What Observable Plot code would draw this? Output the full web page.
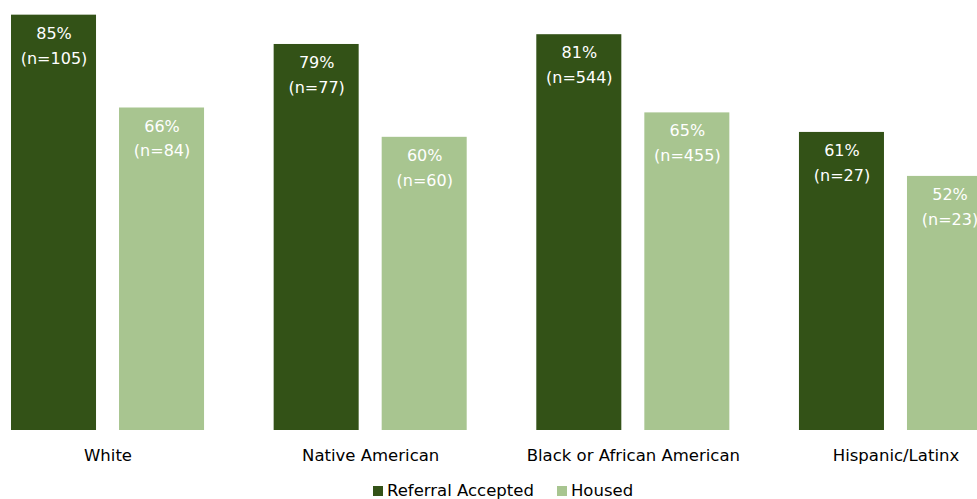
<!DOCTYPE html>
<html>
<head>
<meta charset="utf-8">
<script src="https://cdn.jsdelivr.net/npm/d3@7"></script>
<script src="https://cdn.jsdelivr.net/npm/@observablehq/plot@0.6"></script>
<style>
  html, body { margin: 0; padding: 0; background: #fff; overflow: hidden; width: 977px; height: 499px; }
  #chart { position: absolute; left: 0; top: 0; width: 977px; }
  #legend { position: absolute; top: 481px; left: 373px; display: flex; align-items: center; font-family: "DejaVu Sans", sans-serif; font-size: 16.5px; line-height: 20px; color: #000; white-space: nowrap; }
  #legend .item { display: flex; align-items: center; margin-right: 23px; }
  #legend .sw { width: 10px; height: 10px; margin-right: 4px; }
</style>
</head>
<body>
<div id="chart"></div>
<div id="legend"></div>
<script>
const categories = ["White", "Native American", "Black or African American", "Hispanic/Latinx"];
const series = ["Referral Accepted", "Housed"];
const referralAccepted = [85, 79, 81, 61];
const referralN = [105, 77, 544, 27];
const housed = [66, 60, 65, 52];
const housedN = [84, 60, 455, 23];
const colors = ["#335217", "#A8C590"];

const data = [];
categories.forEach((c, i) => {
  data.push({category: c, series: series[0], value: referralAccepted[i], n: referralN[i]});
  data.push({category: c, series: series[1], value: housed[i], n: housedN[i]});
});

const chart = Plot.plot({
  width: 977,
  height: 480,
  marginTop: 0,
  marginBottom: 50,
  marginLeft: 0,
  marginRight: 0,
  style: {fontFamily: "DejaVu Sans, sans-serif", fontSize: "16px", overflow: "visible"},
  fx: {domain: categories, range: [11, 992], paddingInner: 0.265, paddingOuter: 0, round: false, label: null, axis: null},
  x: {domain: series, paddingInner: 0.213, paddingOuter: 0, round: false, axis: null},
  y: {domain: [0, 88], range: [430, 0], axis: null},
  color: {domain: series, range: colors},
  marks: [
    Plot.barY(data, {fx: "category", x: "series", y: "value", fill: "series"}),
    Plot.text(data, {
      fx: "category", x: "series", y: "value",
      text: d => `${d.value}%\n(n=${d.n})`,
      lineAnchor: "top", lineHeight: 1.55, dy: 6,
      fill: "white", fontSize: 16
    }),
    Plot.axisFx({anchor: "bottom", tickSize: 0, tickPadding: 19, label: null, fontSize: 16.5, fill: "#000"})
  ]
});
document.getElementById("chart").appendChild(chart);

const legend = document.getElementById("legend");
series.forEach((s, i) => {
  const item = document.createElement("div");
  item.className = "item";
  const sw = document.createElement("span");
  sw.className = "sw";
  sw.style.background = colors[i];
  const t = document.createElement("span");
  t.textContent = s;
  item.appendChild(sw);
  item.appendChild(t);
  legend.appendChild(item);
});
</script>
</body>
</html>
